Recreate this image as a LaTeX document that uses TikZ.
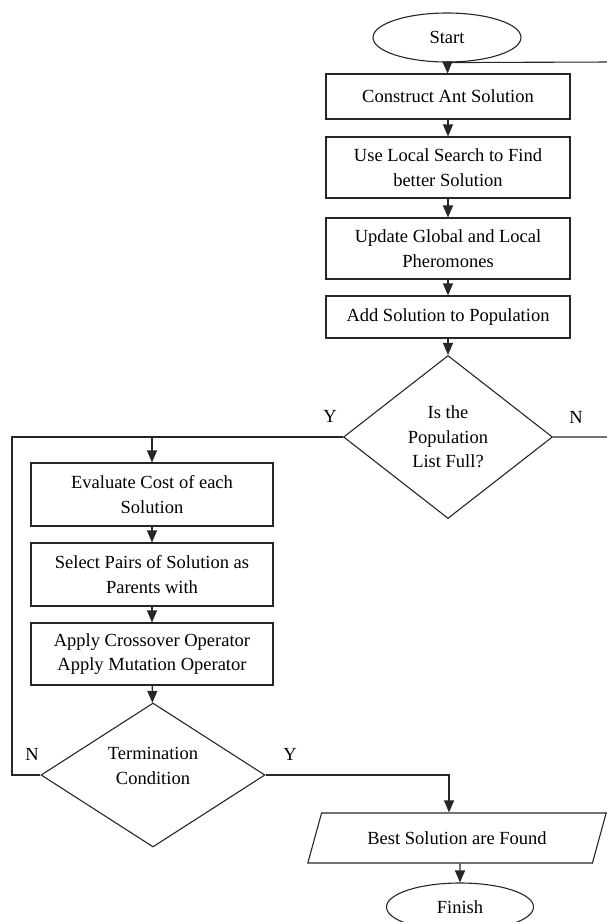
\documentclass[tikz,border=0pt]{standalone}
\usepackage{fontspec}
\setmainfont{Liberation Serif}
\usetikzlibrary{shapes.geometric,arrows.meta}
\tikzset{
  every node/.style={font=\fontsize{18.5}{24.5}\selectfont},
  line/.style={draw=black!85,line width=1.1pt},
  arr/.style={line,-{Triangle[length=12pt,width=10pt]}},
  procbox/.style={line,rectangle,align=center,inner sep=2pt},
  decide/.style={line,diamond,align=center,inner sep=0pt},
  term/.style={line,ellipse,inner sep=0pt},
  iobox/.style={line,trapezium,trapezium left angle=55,trapezium right angle=125,
    trapezium stretches=true,inner sep=0pt}
}
\begin{document}
\begin{tikzpicture}[x=1pt,y=-1pt]
\useasboundingbox (0,0) rectangle (607,922);
% right column
\node[term,minimum width=148pt,minimum height=49pt] (start) at (447,37.5) {Start};
\node[procbox,minimum width=244pt,minimum height=45pt] (b1) at (448,96.5) {Construct Ant Solution};
\node[procbox,minimum width=244pt,minimum height=61pt] (b2) at (448,167.5) {Use Local Search to Find\\better Solution};
\node[procbox,minimum width=244pt,minimum height=61pt] (b3) at (448,248.5) {Update Global and Local\\Pheromones};
\node[procbox,minimum width=244pt,minimum height=42pt] (b4) at (448,317) {Add Solution to Population};
\node[decide,minimum width=209pt,minimum height=163pt,aspect=1.28] (d1) at (448,437) {Is the\\Population\\List Full?};
% left column
\node[procbox,minimum width=242pt,minimum height=63pt] (e1) at (152,494.5) {Evaluate Cost of each\\Solution};
\node[procbox,minimum width=242pt,minimum height=63pt] (e2) at (152,574.5) {Select Pairs of Solution as\\Parents with};
\node[procbox,minimum width=242pt,minimum height=62pt] (e3) at (152,654) {Apply Crossover Operator\\Apply Mutation Operator};
\node[decide,minimum width=224pt,minimum height=144pt] (d2) at (153,775) {};
\node[align=center] (d2txt) at (153,766) {Termination\\Condition};
% output
\node[iobox,minimum width=299pt,minimum height=50pt] (out) at (457,838) {Best Solution are Found};
\node[term,minimum width=147pt,minimum height=48pt] (fin) at (460,907) {Finish};

% labels
\node (y1) at (330,416) {Y};
\node (n1) at (576,417) {N};
\node (n2) at (32,754) {N};
\node (y2) at (290,754) {Y};

% connectors
\coordinate (rtop) at (612,62);
\coordinate (ltop) at (12,437);
\coordinate (ljoin) at (152,437);
\draw[arr] (start) -- (b1);
\draw[arr] (b1) -- (b2);
\draw[arr] (b2) -- (b3);
\draw[arr] (b3) -- (b4);
\draw[arr] (b4) -- (d1);
\draw[line] (d1.east) -| (rtop) -- (start.south);
\draw[line] (d2.west) -| (ltop) -- (d1.west);
\draw[arr] (ljoin) -- (e1.north);
\draw[arr] (e1) -- (e2);
\draw[arr] (e2) -- (e3);
\draw[arr] (e3) -- (d2);
\draw[arr] (d2.east) -| ([xshift=-8pt]out.north);
\draw[arr] ([xshift=3pt]out.south) -- (fin.north);
\end{tikzpicture}
\end{document}
